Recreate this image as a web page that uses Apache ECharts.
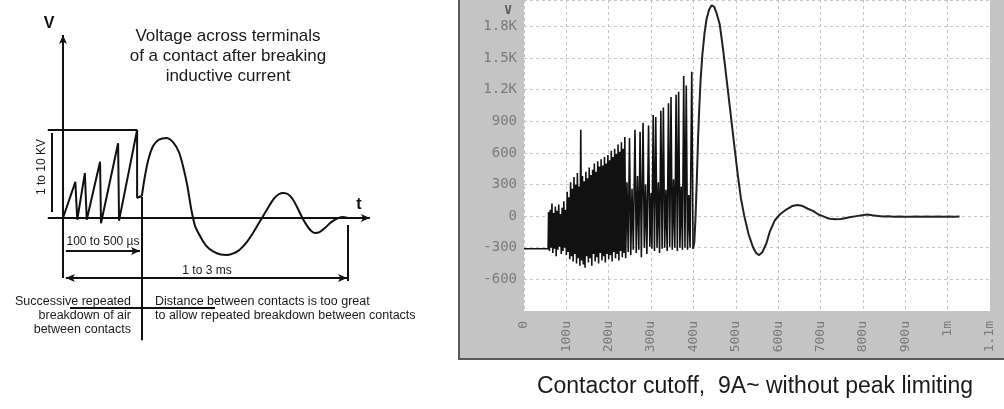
<!DOCTYPE html>
<html>
<head>
<meta charset="utf-8">
<script src="https://cdn.jsdelivr.net/npm/echarts@6/dist/echarts.min.js"></script>
<style>
  html, body { margin: 0; padding: 0; background: #fff; }
  #main { width: 1004px; height: 409px; }
</style>
</head>
<body>
<div id="main"></div>
<script>
// ---- right panel: scope trace (time in µs, voltage in V) ----
const flatTrace = [[0, -310], [57, -310]]

// dense breakdown burst, alternating peak / trough
const burstTrace = [
  [58, 40], [60, -330], [62, 60], [64, -300], [66, 120], [68, -350], [70, 30], [72, -310],
  [74, 90], [76, -380], [78, 50], [80, -320], [82, 110], [84, -290], [86, 20], [88, -360],
  [90, 80], [92, -330], [94, 140], [96, -300], [98, 60], [100, -370], [102, 230], [104, -340],
  [106, 180], [108, -410], [110, 320], [112, -380], [114, 260], [116, -430], [118, 370], [120, -360],
  [122, 300], [124, -450], [126, 410], [128, -400], [130, 280], [132, -470], [134, 820], [136, -420],
  [138, 380], [140, -460], [142, 330], [144, -490], [146, 420], [148, -380], [150, 360], [152, -440],
  [154, 460], [156, -400], [158, 390], [160, -470], [162, 440], [164, -360], [166, 500], [168, -430],
  [170, 420], [172, -390], [174, 520], [176, -450], [178, 470], [180, -350], [182, 540], [184, -420],
  [186, 480], [188, -380], [190, 560], [192, -440], [194, 500], [196, -360], [198, 580], [200, -410],
  [202, 530], [204, -370], [206, 620], [208, -430], [210, 560], [212, -340], [214, 640], [216, -400],
  [218, 590], [220, -360], [222, 680], [224, -420], [226, 610], [228, -330], [230, 700], [232, -390],
  [234, 640], [236, -350], [238, 750], [240, -400],
  [243, 320], [246, -340], [249, 740], [252, -370], [255, 260], [258, -320], [262, 820], [265, -350],
  [268, 380], [271, -320], [274, 800], [277, -390], [281, 885], [284, -300], [287, 300], [290, -360],
  [294, 860], [297, -290], [300, 220], [302, -310], [305, 960], [308, -330], [311, 940], [314, -300],
  [317, 320], [320, -350], [323, 1000], [326, -310], [329, 1030], [332, -300], [335, 250], [338, -330],
  [341, 1070], [344, -290], [347, 1130], [350, -320], [353, 350], [356, -300], [359, 1150], [362, -330],
  [365, 1180], [368, -300], [371, 280], [374, -320], [377, 1330], [380, -300], [383, 1240], [386, -320],
  [389, 200], [392, -300], [396, 1370], [399, -310]
]

// main overvoltage swing and ring-down
const surgeTrace = [
  [399, -310], [402, -250], [405, 0], [408, 350], [411, 750], [414, 1050], [417, 1300], [421, 1530],
  [426, 1730], [431, 1870], [437, 1960], [443, 2000], [449, 1985], [455, 1920], [462, 1820], [470, 1580],
  [479, 1270], [488, 960], [497, 650], [505, 380], [512, 170], [520, 0], [530, -170], [540, -290],
  [548, -350], [555, -370], [563, -340], [572, -260], [580, -150], [592, -40], [605, 20], [620, 65],
  [633, 95], [646, 105], [658, 95], [670, 70], [682, 50], [695, 15], [705, 0], [714, -15], [722, -25]
]

const tailTrace = [
  [735, -30], [748, -28], [760, -18], [772, -8], [785, 0], [798, 8], [810, 15], [822, 8],
  [835, 2], [848, -4], [860, -2], [873, -6], [886, -4], [899, -7], [912, -5], [925, -3],
  [938, -6], [951, -4], [964, -5], [977, -3], [990, -6], [1003, -4], [1016, -5], [1028, -4]
]

// ---- left panel: schematic (time in ms, voltage in kV, not to scale) ----
const sawtooth = [
  [0, 0], [0.13, 4.1], [0.15, -0.2], [0.23, 5.1], [0.25, -0.2], [0.39, 6.4], [0.40, -0.6],
  [0.58, 8.5], [0.59, -0.3], [0.78, 10.0], [0.78, 2.3], [0.83, 2.5]
]
const ringDown = [
  [0.83, 2.5], [0.86, 4.6], [0.90, 6.7], [0.95, 8.2], [1.01, 8.9], [1.09, 9.1], [1.16, 8.6],
  [1.22, 7.5], [1.27, 5.6], [1.31, 3.6], [1.35, 1.0], [1.39, -0.9], [1.44, -2.0], [1.51, -3.2],
  [1.58, -3.8], [1.66, -4.15], [1.73, -4.2], [1.80, -4.0], [1.86, -3.6], [1.93, -2.8], [2.0, -1.7],
  [2.05, -0.8], [2.1, 0.1], [2.16, 1.2], [2.22, 2.2], [2.27, 2.7], [2.32, 2.85], [2.37, 2.7],
  [2.42, 2.1], [2.47, 1.1], [2.52, 0], [2.57, -0.9], [2.61, -1.45], [2.65, -1.7], [2.70, -1.6],
  [2.76, -1.1], [2.82, -0.5], [2.88, -0.1], [2.94, 0.1], [3.0, 0]
]

// annotation segments: [from, to, arrows]
const axisLines = [
  [[0, -6.82], [0, 20.8], 'end'],
  [[-0.16, 0], [3.23, 0], 'end']
]
const guideLines = [
  [[-0.16, 10], [0.78, 10], 'none'],        // level box top
  [[-0.116, 9.66], [-0.116, 0.68], 'none'], // 1 to 10 KV
  [[0.03, -3.75], [0.81, -3.75], 'end'],    // 100 to 500 µs
  [[0.03, -6.82], [2.99, -6.82], 'both'],   // 1 to 3 ms
  [[3.0, -0.8], [3.0, -7.16], 'none'],
  [[0.83, 2.4], [0.83, -13.9], 'none'],     // divider
  [[0.074, -10.23], [1.6, -10.23], 'none']
]

const FONT = '"Liberation Sans", Arial, sans-serif'
const MONO = '"DejaVu Sans Mono", monospace'

function seg(item) {
  const [a, b, arrows] = item
  const head = { symbol: 'arrow', symbolSize: [6, 9] }
  const none = { symbol: 'none' }
  return [
    Object.assign({ coord: a }, arrows === 'both' ? head : none),
    Object.assign({ coord: b }, arrows === 'none' ? none : head)
  ]
}

function txt(x, y, text, size, align, extra) {
  return Object.assign({
    type: 'text', x: x, y: y, silent: true,
    style: {
      text: text, fill: '#1a1a1a', fontSize: size, fontFamily: FONT,
      textAlign: align || 'center', textVerticalAlign: 'middle'
    }
  }, extra || {})
}

function kFmt(v) {
  if (v >= 1000) return (v / 1000).toFixed(1) + 'K'
  return String(v)
}
function tFmt(v) {
  if (v === 0) return '0'
  if (v < 1000) return v + 'u'
  return (v === 1000 ? '1' : (v / 1000).toFixed(1)) + 'm'
}

const option = {
  animation: false,
  graphic: [
    // scope frame
    { type: 'rect', z: -10, silent: true, shape: { x: 460, y: 0, width: 544, height: 358 }, style: { fill: '#c4c4c4' } },
    { type: 'rect', z: -9, silent: true, shape: { x: 458, y: 0, width: 2, height: 360 }, style: { fill: '#5a5a5a' } },
    { type: 'rect', z: -9, silent: true, shape: { x: 458, y: 358, width: 546, height: 2 }, style: { fill: '#5a5a5a' } },
    txt(508, 11, 'V', 12, 'center', { style: { text: 'V', fill: '#555', fontSize: 12, fontWeight: 'bold', fontFamily: MONO, textAlign: 'center', textVerticalAlign: 'middle' } }),
    txt(755, 387, 'Contactor cutoff,  9A~ without peak limiting', 23),
    // schematic texts
    txt(228, 36, 'Voltage across terminals', 17),
    txt(228, 56, 'of a contact after breaking', 17),
    txt(228, 76, 'inductive current', 17),
    txt(49, 24, 'V', 16, 'center', { style: { text: 'V', fill: '#111', fontSize: 16, fontWeight: 'bold', fontFamily: FONT, textAlign: 'center', textVerticalAlign: 'middle' } }),
    txt(359, 205, 't', 16, 'center', { style: { text: 't', fill: '#111', fontSize: 16, fontWeight: 'bold', fontFamily: FONT, textAlign: 'center', textVerticalAlign: 'middle' } }),
    txt(42, 167, '1 to 10 KV', 12, 'center', { rotation: Math.PI / 2 }),
    txt(103, 242, '100 to 500 µs', 12),
    txt(207, 271, '1 to 3 ms', 12),
    txt(131, 302, 'Successive repeated', 12.5, 'right'),
    txt(131, 316, 'breakdown of air', 12.5, 'right'),
    txt(131, 330, 'between contacts', 12.5, 'right'),
    txt(155, 302, 'Distance between contacts is too great', 12.5, 'left'),
    txt(155, 316, 'to allow repeated breakdown between contacts', 12.5, 'left')
  ],
  grid: [
    { left: 524, top: 0, width: 466, height: 311, show: true, backgroundColor: '#fff', borderWidth: 0 },
    { left: 44, top: 33.2, width: 342, height: 308 }
  ],
  xAxis: [
    {
      gridIndex: 0, type: 'value', min: 0, max: 1100, interval: 100,
      axisLine: { show: false, onZero: false }, axisTick: { show: false },
      splitLine: { show: true, lineStyle: { color: '#c6c6c6', type: [3, 3] } },
      axisLabel: { rotate: 90, margin: 10, color: '#7a7a7a', fontFamily: MONO, fontSize: 13, formatter: tFmt }
    },
    { gridIndex: 1, type: 'value', min: -0.2, max: 3.4, show: false }
  ],
  yAxis: [
    {
      gridIndex: 0, type: 'value', min: -900, max: 2050, interval: 300,
      axisLine: { show: false, onZero: false }, axisTick: { show: false },
      splitLine: { show: true, lineStyle: { color: '#c6c6c6', type: [3, 3] } },
      axisLabel: {
        margin: 7, color: '#7a7a7a', fontFamily: MONO, fontSize: 14,
        showMinLabel: false, showMaxLabel: false, formatter: kFmt
      }
    },
    { gridIndex: 1, type: 'value', min: -14, max: 21, show: false }
  ],
  series: [
    {
      type: 'line', xAxisIndex: 0, yAxisIndex: 0, showSymbol: false, silent: true,
      data: flatTrace.concat(burstTrace),
      lineStyle: { color: '#111', width: 1.6 }
    },
    {
      type: 'line', xAxisIndex: 0, yAxisIndex: 0, showSymbol: false, silent: true,
      data: surgeTrace.concat(tailTrace),
      lineStyle: { color: '#222', width: 2 }
    },
    {
      type: 'line', xAxisIndex: 1, yAxisIndex: 1, showSymbol: false, silent: true,
      data: sawtooth,
      lineStyle: { color: '#111', width: 2 },
      markLine: {
        silent: true, animation: false,
        label: { show: false },
        lineStyle: { color: '#111', width: 2, type: 'solid' },
        emphasis: { disabled: true },
        data: axisLines.concat(guideLines).map(seg)
      }
    },
    {
      type: 'line', xAxisIndex: 1, yAxisIndex: 1, showSymbol: false, silent: true,
      data: ringDown, smooth: 0.3,
      lineStyle: { color: '#111', width: 2 }
    }
  ]
}

const myChart = echarts.init(document.getElementById('main'))
myChart.setOption(option)
</script>
</body>
</html>
